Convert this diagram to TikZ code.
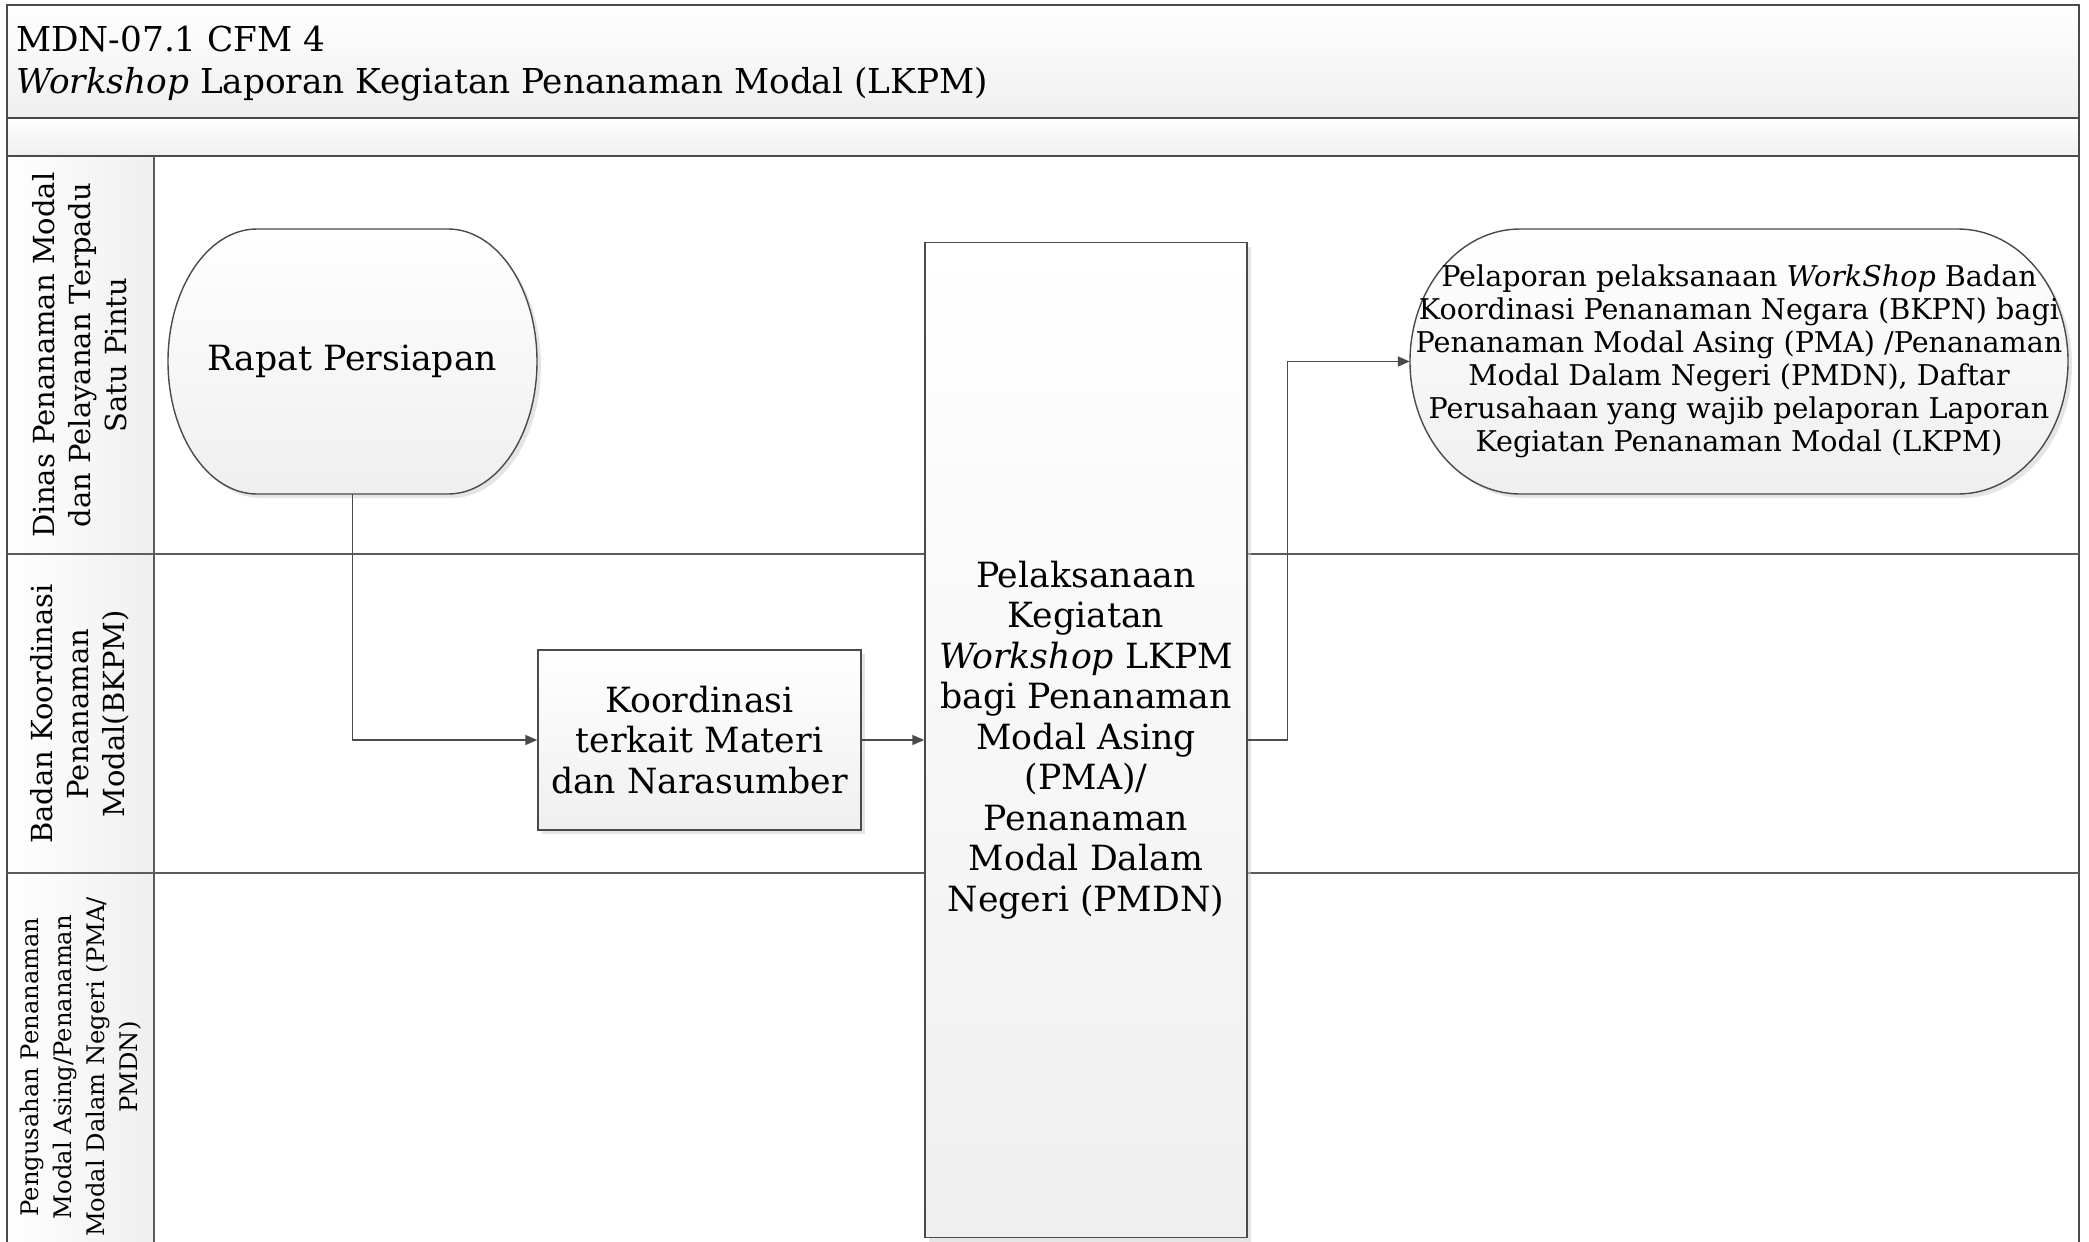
\documentclass[tikz,border=0pt]{standalone}
\usepackage{fontspec}
\setmainfont{DejaVu Serif}
\usetikzlibrary{arrows.meta,shadows}
\definecolor{lc}{HTML}{4A4A4A}
\definecolor{sh}{HTML}{EFEFEF}
\begin{document}
\begin{tikzpicture}[x=1pt,y=1pt,
  frame/.style={draw=lc,line width=2pt},
  lane/.style={draw=lc!90,line width=1.6pt},
  shapebox/.style={draw=lc,line width=1.4pt,top color=white,bottom color=sh,
    drop shadow={shadow xshift=4pt,shadow yshift=-4pt,fill=black!20,opacity=0.5}},
  bigtxt/.style={font=\fontsize{34.7}{40.5}\selectfont,align=center},
  smtxt/.style={font=\fontsize{28.6}{33}\selectfont,align=center},
  lanetxt/.style={font=\fontsize{29}{36}\selectfont,align=center,rotate=90},
  conn/.style={draw=lc,line width=1.5pt,-{Triangle[length=12pt,width=10pt]}}
]
\useasboundingbox (0,0) rectangle (2089,-1242);
\clip (0,0) rectangle (2089,-1242);
% bands
\path[top color=white,bottom color=sh] (7,-5) rectangle (2079,-118);
\path[top color=white,bottom color=sh] (7,-118) rectangle (2079,-156);
\path[left color=white,right color=sh] (7,-156) rectangle (154,-1261);
% frame and lanes
\draw[frame] (7,-5) rectangle (2079,-1261);
\draw[frame] (7,-118) -- (2079,-118);
\draw[frame] (7,-156) -- (2079,-156);
\draw[lane] (154,-156) -- (154,-1261);
\draw[lane] (7,-554) -- (2079,-554);
\draw[lane] (7,-873) -- (2079,-873);
% title
\node[anchor=base west,inner sep=0,font=\fontsize{34.3}{40}\selectfont] (t1) at (16,-51) {MDN-07.1 CFM 4};
\node[anchor=base west,inner sep=0,font=\fontsize{34.3}{40}\selectfont] (t2) at (16,-93) {\textit{Workshop} Laporan Kegiatan Penanaman Modal (LKPM)};
% lane labels
\node[lanetxt] (l1) at (80,-355) {Dinas Penanaman Modal\\dan Pelayanan Terpadu\\Satu Pintu};
\node[lanetxt] (l2) at (80,-714) {Badan Koordinasi\\Penanaman\\Modal(BKPM)};
\node[lanetxt,font=\fontsize{24.2}{33}\selectfont] (l3) at (81,-1067) {Pengusahan Penanaman\\Modal Asing/Penanaman\\Modal Dalam Negeri (PMA/\\PMDN)};
% Rapat Persiapan terminator
\path[shapebox] (257,-229) -- (448,-229) arc[start angle=90,end angle=-90,x radius=89,y radius=132.5]
  -- (257,-494) arc[start angle=270,end angle=90,x radius=89,y radius=132.5] -- cycle;
\node[bigtxt,minimum width=369,minimum height=265,inner sep=0] (rapat) at (352.5,-361.5) {Rapat Persiapan};
% Koordinasi
\node[shapebox,bigtxt,minimum width=323,minimum height=180,inner sep=0] (koord) at (699.5,-740) {Koordinasi\\terkait Materi\\dan Narasumber};
% Pelaksanaan
\node[shapebox,bigtxt,minimum width=322,minimum height=995,inner sep=0] (pel) at (1086,-740)
  {Pelaksanaan\\Kegiatan\\\textit{Workshop} LKPM\\bagi Penanaman\\Modal Asing\\(PMA)/\\Penanaman\\Modal Dalam\\Negeri (PMDN)};
% Pelaporan terminator
\path[shapebox] (1520,-229) -- (1958,-229) arc[start angle=90,end angle=-90,x radius=110,y radius=132.5]
  -- (1520,-494) arc[start angle=270,end angle=90,x radius=110,y radius=132.5] -- cycle;
\node[smtxt,minimum width=658,minimum height=265,inner sep=0] (lapor) at (1739,-361.5)
  {Pelaporan pelaksanaan \textit{WorkShop} Badan\\Koordinasi Penanaman Negara (BKPN) bagi\\Penanaman Modal Asing (PMA) /Penanaman\\Modal Dalam Negeri (PMDN), Daftar\\Perusahaan yang wajib pelaporan Laporan\\Kegiatan Penanaman Modal (LKPM)};
% connectors
\draw[conn] (rapat.south) |- (koord.west);
\draw[conn] (koord.east) -- (pel.west);
\draw[conn] (pel.east) -- ++(40,0) |- (lapor.west);
\end{tikzpicture}
\end{document}
